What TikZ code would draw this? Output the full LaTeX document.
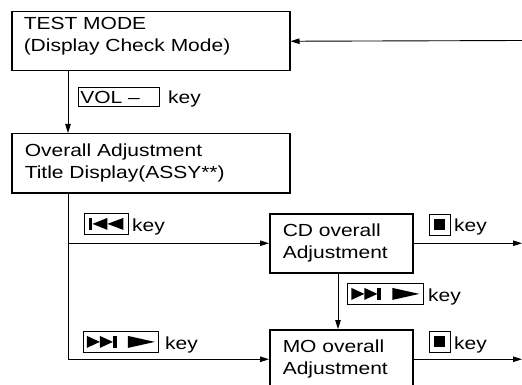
\documentclass[tikz,border=0pt]{standalone}
\usepackage{fontspec}
\setmainfont[FakeStretch=1.2]{Liberation Sans}
\usetikzlibrary{arrows.meta}
\newcommand\prevglyph{\tikz[x=1pt,y=1pt]{\fill (0,0) rectangle (3,12); \fill (3,6)--(18,12)--(18,0)--cycle; \fill (18,6)--(34,12)--(34,0)--cycle;}}
\newcommand\nextglyph{\tikz[x=1pt,y=1pt]{\fill (0,0)--(13,6)--(0,12)--cycle; \fill (13,0)--(26,6)--(13,12)--cycle; \fill (26,0) rectangle (30,12); \fill (41,0)--(68,6)--(41,12)--cycle;}}
\newcommand\stopglyph{\tikz[x=1pt,y=1pt]{\fill (0,0) rectangle (11,11);}}
\begin{document}
\begin{tikzpicture}[x=1pt,y=-1pt,
  txt/.style={font=\fontsize{17.5}{22}\selectfont},
  mainbox/.style={txt, draw, line width=1.5pt, inner sep=0pt, anchor=north west, align=left, minimum height=59pt},
  conn/.style={line width=0.9pt, -{Triangle[length=9pt,width=5.5pt]}},
  plain/.style={line width=0.9pt},
  keybox/.style={txt, draw, line width=0.8pt, inner sep=0pt, minimum height=21pt, anchor=north west},
  keylbl/.style={txt, anchor=base west, inner sep=0pt}
]
\clip (0,0) rectangle (522,385);
\useasboundingbox (0,0) rectangle (522,385);

% main boxes
\node[mainbox, minimum width=278pt, text width=254pt] (b1) at (11,11)
  {TEST MODE\\(Display Check Mode)\rule[-14pt]{0pt}{14pt}};
\node[mainbox, minimum width=278pt, text width=252pt] (b2) at (11,133)
  {Overall Adjustment\\Title Display(ASSY**)};
\node[mainbox, minimum width=143pt, text width=117pt] (cd) at (269,213)
  {CD overall\\Adjustment};
\node[mainbox, minimum width=143pt, text width=117pt] (mo) at (269,329)
  {MO overall\\Adjustment};

% key boxes and labels
\node[keybox, minimum width=81pt, minimum height=19.5pt, text width=77pt, align=left] (kvol) at (78,87) {VOL --};
\node[keylbl] (lvol) at (168,104) {key};
\node[keybox, minimum width=44pt] (kprev) at (84,213) {\prevglyph};
\node[keylbl] (lprev) at (132,231) {key};
\node[keybox, minimum width=75pt] (knext1) at (83,331) {\nextglyph};
\node[keylbl] (lnext1) at (165,349) {key};
\node[keybox, minimum width=76pt] (knext2) at (347,283) {\nextglyph};
\node[keylbl] (lnext2) at (428,301) {key};
\node[keybox, minimum width=21pt] (kstop1) at (429,214) {\stopglyph};
\node[keylbl] (lstop1) at (454,231) {key};
\node[keybox, minimum width=21pt] (kstop2) at (429,331) {\stopglyph};
\node[keylbl] (lstop2) at (454,349) {key};

% free ends
\coordinate (retin) at (522,40.5);
\coordinate (edge) at (522,0);

% connectors
\draw[conn] (retin) -- (b1.east);
\draw[conn] ([xshift=57pt]b1.south west) -- ([xshift=57pt]b2.north west);
\draw[plain] ([xshift=57pt]b2.south west) |- ([xshift=-2pt]mo.west);
\draw[conn] ([xshift=57pt]b2.south west) |- (mo.west);
\draw[conn] ([xshift=57pt]b2.south west |- cd.west) -- (cd.west);
\draw[conn] ([xshift=69pt]cd.south west) -- ([xshift=69pt]mo.north west);
\draw[conn] (cd.east) -- (cd.east -| edge);
\draw[conn] (mo.east) -- (mo.east -| edge);
\end{tikzpicture}
\end{document}
